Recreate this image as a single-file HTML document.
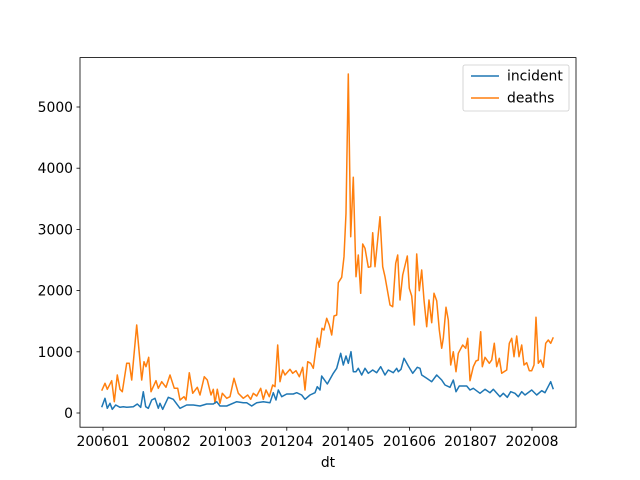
<!DOCTYPE html>
<html><head><meta charset="utf-8"><style>body{margin:0;background:#fff}svg{display:block}</style></head><body>
<svg width="640" height="480" xmlns="http://www.w3.org/2000/svg" font-family="'DejaVu Sans', 'Liberation Sans', sans-serif" font-size="13.9">
<rect width="640" height="480" fill="#fff"/>
<g fill="none" stroke-width="1.5" stroke-linejoin="round">
<polyline stroke="#ff7f0e" points="101.7,390.7 105,383.3 107.3,389.3 111.7,380.7 114.3,401.7 117.3,375 120,389.3 122.3,391.7 126.7,363.3 129.3,363.3 131.7,380 136.7,325 141.7,380 144,361.7 146,366.7 148.7,357.3 151,391.7 156,380.7 158.3,388.3 161.7,381.7 166,387.3 170,375 174.3,388.3 177.7,388.3 180,400 184,396.7 186,400 189.3,372.7 192.7,393.3 197.3,387.3 200,395 204.3,376.7 207.3,380 211,395 213.3,389.3 215,403.3 217.3,389.3 220,403.3 222.3,393.3 226.7,398.3 230,396.7 234,378.3 238.3,393.3 243.3,398.3 247.7,395 250.7,399.3 253.3,393.3 256.7,396 260.7,388.3 263.3,399.3 266,390 269.3,396.7 272.7,385 275,386.7 277.7,345 280,381.7 282.7,370 285,375 290,369.3 292.7,373.3 296,370.7 299.3,376.7 302.7,367.3 305,390 307.7,361.7 310.7,363.3 313.3,368.3 317.3,338.3 319.3,347.3 322,328.3 324,330 326.7,318.3 329.3,325 331.7,335 334,316 336.7,315 338.3,282.7 341.7,277.3 344,256.7 346,213.3 348.3,74 350.7,236.7 353.3,177.3 356,276.7 358.3,255 360.7,293.3 362.7,244 365,248.3 368.3,267.3 370.7,266.7 372.7,232.7 375,266.7 380,216.7 382.7,266.7 385,276.7 390,305 392.7,306.7 395.7,263.3 397.7,255 400,300 402.7,275 407.3,256 409.3,288.3 411.7,296 414.3,325 416.7,254 419.3,290.7 421.7,270 424,300 426.7,326.7 429,300 431.7,322.7 434,293.3 436.7,300.7 439.3,330 441.7,348.3 443.3,338.3 446,307.3 448.3,320 450.7,365 453.3,351.7 456,371.7 458.3,353.3 462.7,345 465.7,348.3 467.7,338.3 470,380.7 473.3,366.7 476,361 478.3,360 480.7,331.7 482.3,366.7 485,357.3 489.3,363.3 491.7,360 494.3,343.3 496.7,366.7 499.3,358.3 501.7,373.3 506.7,370 509.3,343.3 511.7,338.3 514,356.7 516.7,336 519,356.7 521.7,345 524,365 526.7,362.7 529.3,370.7 531.7,370.7 534,365 536,317.3 538.3,363.3 540.7,360 543.3,367.3 545.7,343.3 548.3,340 550.7,343.3 553.3,337.3"/>
<polyline stroke="#1f77b4" points="101.7,407.3 105,398.3 107.3,408.3 110,403.3 112.3,409.3 115.7,405 120,407.3 123.3,406.7 126.7,407.3 133.3,406.7 137.3,404 140.7,407.3 143.3,391.7 145.7,406.7 148.3,408.3 151.7,400 155,398.3 158.3,408.3 160,403.3 162.7,409.3 168.3,397.3 173.3,399.3 180,408.3 186.7,405 193.3,405 200,406 206.7,404 213.3,404 216.7,401.7 220,406 226.7,406 236.7,401.7 243.3,402.7 246.7,402.7 251.7,406 256.7,402.7 263.3,401.7 270,402.7 273.3,392.7 276,400 278.3,390 281.7,396.7 286.7,394 293.3,394 296.7,392.7 301.7,395 305,399.3 310,395 315,392.7 317.3,386.7 320,390 321.7,376 323.3,378.3 327.3,384 333.3,373.3 336.7,368.3 337.3,366 340.7,353.3 343.3,365 346,356 348.3,363.3 351,351.7 353.3,371.7 356,371.7 358.3,368.3 361.7,375 365,368.3 368.3,373.3 372.7,370 376.7,372.7 380.7,366.7 385,375 388.3,370 393.3,372.7 396.7,368.3 398.3,371.7 401,369.3 404,358.3 408.3,366 412.7,373.3 417.3,367.3 420,368.3 421.7,375 426.7,378.3 431.7,381.7 436.7,375 441.7,380 445,385 450,387.3 453.3,380 456,391.7 459.3,386 466.7,386 470,390 473.3,388.3 480,393.3 485,389.3 490,392.7 493.3,389.3 500,396.7 503.3,393.3 507.3,397.3 510.7,391.7 515,393.3 518.3,396.7 521.7,391.7 525,395 531.7,390 536.7,395 541.7,390.7 545,392.7 550.7,381.7 553.3,389.3"/>
</g>
<rect x="80" y="57.6" width="496" height="369.6" fill="none" stroke="#000" stroke-width="0.8"/>
<g stroke="#000" stroke-width="0.8">
<line x1="80" y1="413" x2="76.5" y2="413"/><line x1="80" y1="351.8" x2="76.5" y2="351.8"/><line x1="80" y1="290.6" x2="76.5" y2="290.6"/><line x1="80" y1="229.4" x2="76.5" y2="229.4"/><line x1="80" y1="168.2" x2="76.5" y2="168.2"/><line x1="80" y1="107" x2="76.5" y2="107"/>
<line x1="103" y1="427.2" x2="103" y2="430.7"/><line x1="164.3" y1="427.2" x2="164.3" y2="430.7"/><line x1="225.6" y1="427.2" x2="225.6" y2="430.7"/><line x1="286.8" y1="427.2" x2="286.8" y2="430.7"/><line x1="348.1" y1="427.2" x2="348.1" y2="430.7"/><line x1="409.4" y1="427.2" x2="409.4" y2="430.7"/><line x1="470.7" y1="427.2" x2="470.7" y2="430.7"/><line x1="532" y1="427.2" x2="532" y2="430.7"/>
</g>
<g text-anchor="end">
<text x="73" y="418">0</text><text x="73" y="356.8">1000</text><text x="73" y="295.6">2000</text><text x="73" y="234.4">3000</text><text x="73" y="173.2">4000</text><text x="73" y="112">5000</text>
</g>
<g text-anchor="middle">
<text x="103" y="446">200601</text><text x="164.3" y="446">200802</text><text x="225.6" y="446">201003</text><text x="286.8" y="446">201204</text><text x="348.1" y="446">201405</text><text x="409.4" y="446">201606</text><text x="470.7" y="446">201807</text><text x="532" y="446">202008</text>
<text x="328" y="467">dt</text>
</g>
<rect x="463" y="65" width="106" height="46" rx="2" fill="#fff" fill-opacity="0.8" stroke="#ccc" stroke-width="0.8"/>
<line x1="471" y1="76" x2="499" y2="76" stroke="#1f77b4" stroke-width="1.5"/>
<line x1="471" y1="98" x2="499" y2="98" stroke="#ff7f0e" stroke-width="1.5"/>
<text x="507" y="80.5">incident</text><text x="507" y="102.5">deaths</text>
</svg>
</body></html>
